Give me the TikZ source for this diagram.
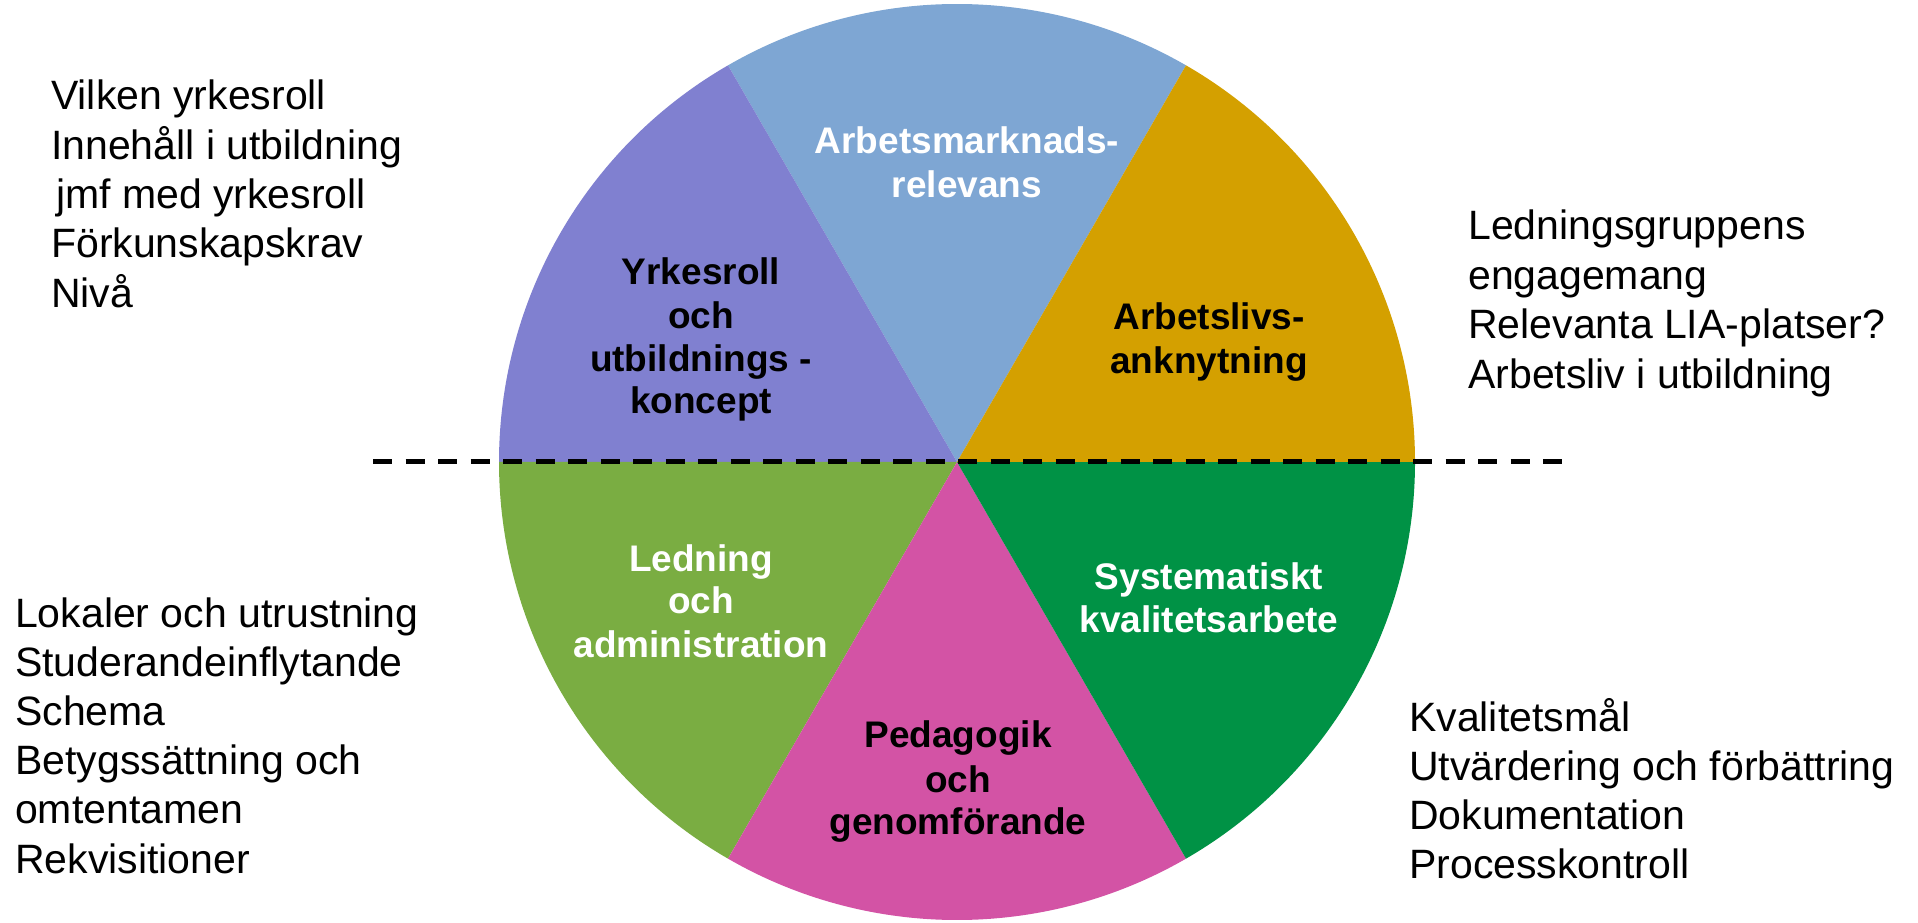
\documentclass[tikz,border=0pt]{standalone}
\usepackage{fontspec}
\setmainfont{Liberation Sans}
\definecolor{sliceblue}{RGB}{126,166,211}
\definecolor{slicepurple}{RGB}{128,128,208}
\definecolor{slicegold}{RGB}{212,160,0}
\definecolor{slicelgreen}{RGB}{122,173,66}
\definecolor{slicepink}{RGB}{211,83,165}
\definecolor{slicedgreen}{RGB}{0,146,69}
\begin{document}
\begin{tikzpicture}[x=1pt,y=1pt,
  side/.style={anchor=base west, inner sep=0pt, font=\fontsize{41}{49}\selectfont, text=black},
  lbl/.style={anchor=base, inner sep=0pt, font=\fontsize{37}{43}\selectfont\bfseries},
  sepline/.style={line width=5pt, dash pattern=on 19pt off 13.5pt}]
\useasboundingbox (0,0) rectangle (1918,922);
\coordinate (c) at (957,460);
% pie slices
\fill[sliceblue]   (c) -- ++(60:458)  arc[start angle=60,  end angle=120, radius=458] -- cycle;
\fill[slicepurple] (c) -- ++(120:458) arc[start angle=120, end angle=180, radius=458] -- cycle;
\fill[slicelgreen] (c) -- ++(180:458) arc[start angle=180, end angle=240, radius=458] -- cycle;
\fill[slicepink]   (c) -- ++(240:458) arc[start angle=240, end angle=300, radius=458] -- cycle;
\fill[slicedgreen] (c) -- ++(300:458) arc[start angle=300, end angle=360, radius=458] -- cycle;
\fill[slicegold]   (c) -- ++(0:458)   arc[start angle=0,   end angle=60,  radius=458] -- cycle;
% dashed separator
\coordinate (dl) at (373,460);
\coordinate (dr) at (1564,460);
\draw[sepline] (dl) -- (dr);
% slice labels
\node[lbl, text=white] (am1) at (967,768) {Arbetsmarknads-};
\node[lbl, text=white] (am2) at (967,724) {relevans};
\node[lbl, text=black] (yk1) at (701,637) {Yrkesroll};
\node[lbl, text=black] (yk2) at (701,593) {och};
\node[lbl, text=black] (yk3) at (701,550) {utbildnings -};
\node[lbl, text=black] (yk4) at (701,508) {koncept};
\node[lbl, text=black] (al1) at (1209,592) {Arbetslivs-};
\node[lbl, text=black] (al2) at (1209,548) {anknytning};
\node[lbl, text=white] (la1) at (701,351) {Ledning};
\node[lbl, text=white] (la2) at (701,309) {och};
\node[lbl, text=white] (la3) at (701,265) {administration};
\node[lbl, text=white] (sk1) at (1209,333) {Systematiskt};
\node[lbl, text=white] (sk2) at (1209,290) {kvalitetsarbete};
\node[lbl, text=black] (pg1) at (958,175) {Pedagogik};
\node[lbl, text=black] (pg2) at (958,130) {och};
\node[lbl, text=black] (pg3) at (958,88) {genomförande};
% side lists
\foreach \t [count=\i] in {Vilken yrkesroll, Innehåll i utbildning, \hspace*{0.12em}jmf med yrkesroll, Förkunskapskrav, Nivå}
  \node[side] (lt\i) at (51,{812-49.3*(\i-1)}) {\t};
\foreach \t [count=\i] in {Ledningsgruppens, engagemang, Relevanta LIA-platser?, Arbetsliv i utbildning}
  \node[side] (rt\i) at (1468,{682-49.5*(\i-1)}) {\t};
\foreach \t [count=\i] in {Lokaler och utrustning, Studerandeinflytande, Schema, Betygssättning och, omtentamen, Rekvisitioner}
  \node[side] (lb\i) at (15,{295-49.2*(\i-1)}) {\t};
\foreach \t [count=\i] in {Kvalitetsmål, Utvärdering och förbättring, Dokumentation, Processkontroll}
  \node[side] (rb\i) at (1409,{191-49.3*(\i-1)}) {\t};
\end{tikzpicture}
\end{document}
